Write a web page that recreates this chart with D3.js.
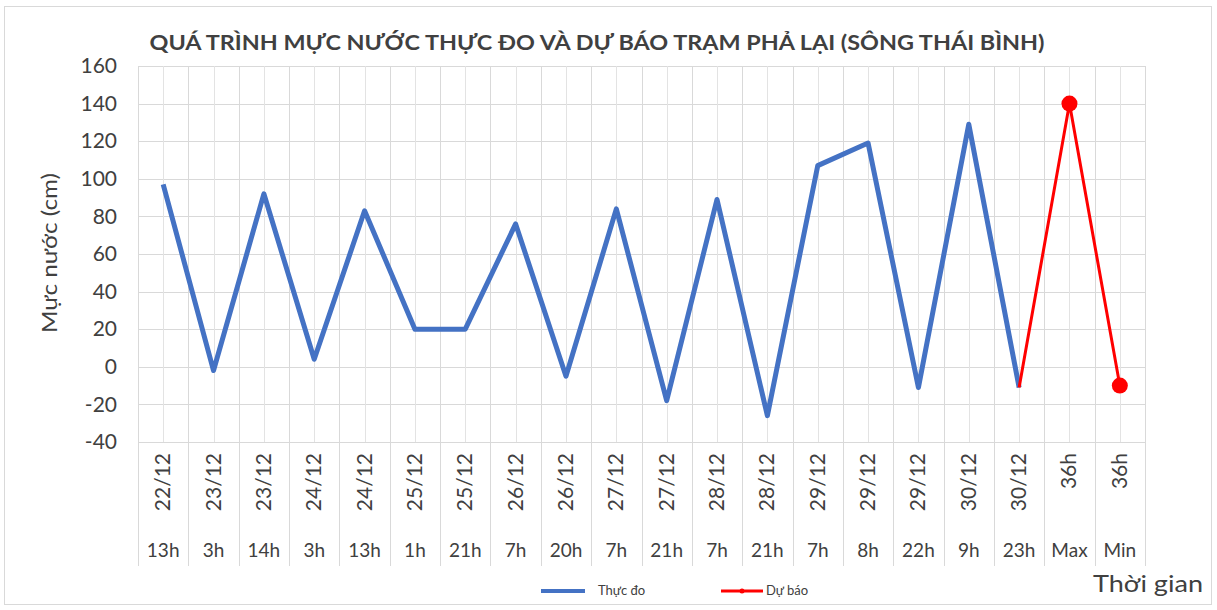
<!DOCTYPE html>
<html>
<head>
<meta charset="utf-8">
<script src="https://cdn.jsdelivr.net/npm/d3@7/dist/d3.min.js"></script>
<style>
  html, body { margin: 0; padding: 0; background: #ffffff; }
  svg { display: block; }
  text { font-family: Lato, "Open Sans", "Noto Sans", sans-serif; fill: #404040; }
</style>
</head>
<body>
<svg id="chart" width="1217" height="610"></svg>
<script>
// ---------- DATA ----------
const dateLabels = ["22/12","23/12","23/12","24/12","24/12","25/12","25/12","26/12","26/12","27/12",
                    "27/12","28/12","28/12","29/12","29/12","29/12","30/12","30/12","36h","36h"];
const timeLabels = ["13h","3h","14h","3h","13h","1h","21h","7h","20h","7h",
                    "21h","7h","21h","7h","8h","22h","9h","23h","Max","Min"];
const observed = [97, -2, 92, 4, 83, 20, 20, 76, -5, 84,
                  -18, 89, -26, 107, 119, -11, 129, -11, null, null];
const forecast = [null, null, null, null, null, null, null, null, null, null,
                  null, null, null, null, null, null, null, -11, 140, -10];
const forecastMarkers = [false, false, false, false, false, false, false, false, false, false,
                         false, false, false, false, false, false, false, false, true, true];
const yTicks = [-40, -20, 0, 20, 40, 60, 80, 100, 120, 140, 160];
const titleText = "QUÁ TRÌNH MỰC NƯỚC THỰC ĐO VÀ DỰ BÁO TRẠM PHẢ LẠI (SÔNG THÁI BÌNH)";
const yTitle = "Mực nước (cm)";
const xTitle = "Thời gian";
const seriesNames = ["Thực đo", "Dự báo"];

// ---------- LAYOUT ----------
const svg = d3.select("#chart");
const plot = { left: 138, right: 1145, top: 66, bottom: 442 };
const gridColor = "#d9d9d9";
const blue = "#4472C4", red = "#FF0000";

// chart border
svg.append("rect").attr("x", 4.5).attr("y", 6.5).attr("width", 1207).attr("height", 598)
  .attr("fill", "#fff").attr("stroke", "#d9d9d9").attr("stroke-width", 1);

const idx = d3.range(dateLabels.length);
const x = d3.scaleBand().domain(idx).range([plot.left, plot.right]).padding(0);
const y = d3.scaleLinear().domain([-40, 160]).range([plot.bottom, plot.top]);
const bw = x.bandwidth();

// horizontal gridlines
svg.append("g").selectAll("line").data(yTicks).join("line")
  .attr("x1", plot.left).attr("x2", plot.right)
  .attr("y1", d => Math.round(y(d)) + 0.5).attr("y2", d => Math.round(y(d)) + 0.5)
  .attr("stroke", gridColor).attr("stroke-width", 1);

// vertical gridlines: band boundaries and centers
const bounds = idx.map(i => x(i)).concat([plot.right]);
const centers = idx.map(i => x(i) + bw / 2);
svg.append("g").selectAll("line").data(centers).join("line")
  .attr("x1", d => Math.round(d) + 0.5).attr("x2", d => Math.round(d) + 0.5)
  .attr("y1", plot.top).attr("y2", plot.bottom)
  .attr("stroke", "#e3e3e3").attr("stroke-width", 1);
svg.append("g").selectAll("line").data(bounds).join("line")
  .attr("x1", d => Math.round(d) + 0.5).attr("x2", d => Math.round(d) + 0.5)
  .attr("y1", plot.top).attr("y2", 566)
  .attr("stroke", gridColor).attr("stroke-width", 1);

// y axis labels
const yAxis = d3.axisLeft(y).tickValues(yTicks).tickSize(0).tickPadding(21)
  .tickFormat(d => String(d));
const gy = svg.append("g").attr("transform", `translate(${plot.left},0)`).call(yAxis);
gy.select(".domain").remove();
gy.selectAll("text").attr("font-size", 21).attr("fill", "#404040")
  .style("font-family", "Lato, 'Open Sans', sans-serif");

// x axis: two-level category labels
const xAxisG = svg.append("g");
xAxisG.selectAll("text.date").data(idx).join("text").attr("class", "date")
  .attr("transform", i => `translate(${x(i) + bw / 2 + 7},453) rotate(-90)`)
  .attr("text-anchor", "end").attr("font-size", 21)
  .text(i => dateLabels[i]);
xAxisG.selectAll("text.time").data(idx).join("text").attr("class", "time")
  .attr("x", i => x(i) + bw / 2).attr("y", 557)
  .attr("text-anchor", "middle").attr("font-size", 19)
  .text(i => timeLabels[i]);

// series lines
const lineGen = d3.line().defined(d => d.v !== null).x(d => x(d.i) + bw / 2).y(d => y(d.v));
const obsData = observed.map((v, i) => ({ i, v }));
const fcData = forecast.map((v, i) => ({ i, v }));
svg.append("path").datum(obsData).attr("d", lineGen)
  .attr("fill", "none").attr("stroke", blue).attr("stroke-width", 5)
  .attr("stroke-linejoin", "round");
svg.append("path").datum(fcData).attr("d", lineGen)
  .attr("fill", "none").attr("stroke", red).attr("stroke-width", 3)
  .attr("stroke-linejoin", "round");
svg.append("g").selectAll("circle").data(fcData.filter(d => d.v !== null && forecastMarkers[d.i])).join("circle")
  .attr("cx", d => x(d.i) + bw / 2).attr("cy", d => y(d.v)).attr("r", 8)
  .attr("fill", red);

// title
svg.append("text").attr("x", 597).attr("y", 50).attr("text-anchor", "middle")
  .attr("font-size", 21).attr("font-weight", "bold").attr("fill", "#000")
  .attr("textLength", 895).attr("lengthAdjust", "spacingAndGlyphs")
  .text(titleText);

// y title
svg.append("text").attr("transform", "translate(57,253) rotate(-90)")
  .attr("text-anchor", "middle").attr("font-size", 21).attr("fill", "#000")
  .attr("textLength", 160).attr("lengthAdjust", "spacingAndGlyphs")
  .text(yTitle);

// x title
svg.append("text").attr("x", 1203).attr("y", 592).attr("text-anchor", "end")
  .attr("font-size", 24).attr("fill", "#404040")
  .attr("textLength", 110).attr("lengthAdjust", "spacingAndGlyphs")
  .text(xTitle);

// legend
const lg = svg.append("g");
lg.append("line").attr("x1", 541).attr("x2", 585).attr("y1", 591).attr("y2", 591)
  .attr("stroke", blue).attr("stroke-width", 4);
lg.append("text").attr("x", 598).attr("y", 595).attr("font-size", 13).text(seriesNames[0]);
lg.append("line").attr("x1", 721).attr("x2", 763).attr("y1", 591).attr("y2", 591)
  .attr("stroke", red).attr("stroke-width", 3);
lg.append("circle").attr("cx", 742).attr("cy", 591).attr("r", 2.5).attr("fill", red);
lg.append("text").attr("x", 766).attr("y", 595).attr("font-size", 13).text(seriesNames[1]);
</script>
</body>
</html>
